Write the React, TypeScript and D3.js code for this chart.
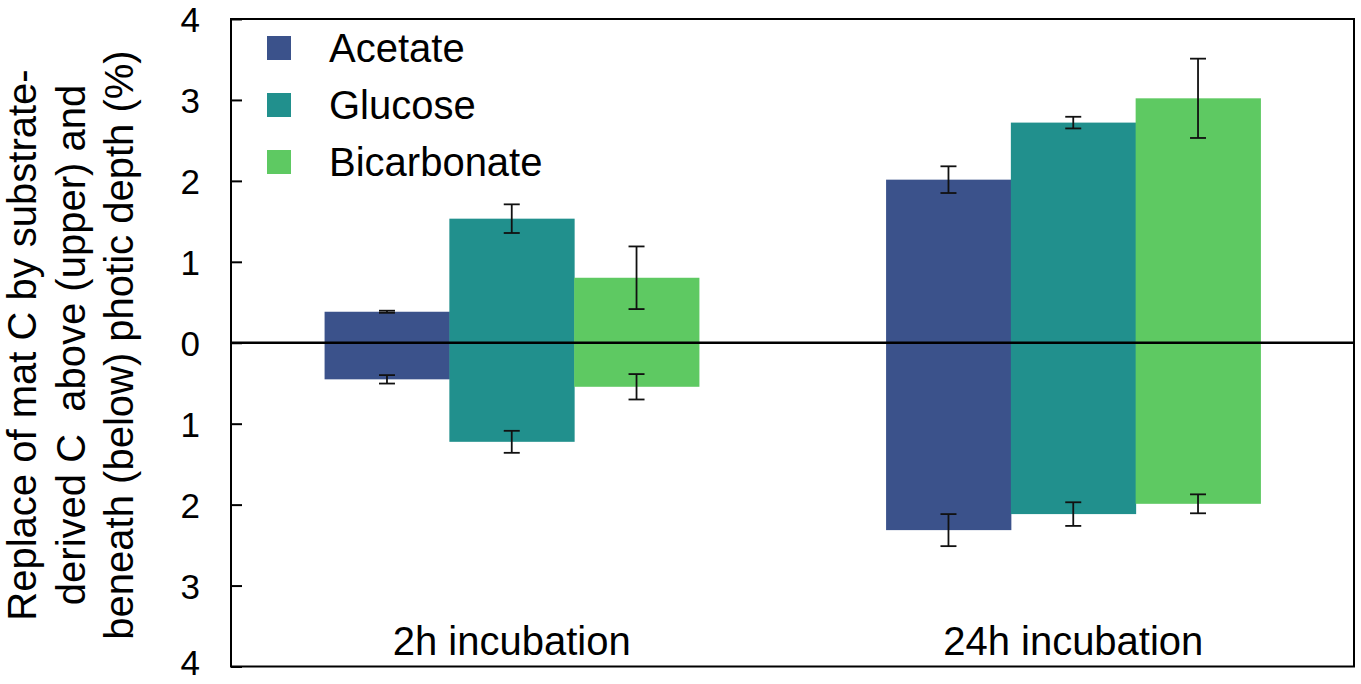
import React, { useEffect, useRef } from 'react';
import * as d3 from 'd3';

// categories and series
const categories = ['2h incubation', '24h incubation'];
const substrates = ['Acetate', 'Glucose', 'Bicarbonate'];
const substrateColors = ['#3b528b', '#21908d', '#5ec962'];

// replacement above photic depth (upper, drawn positive), per category
const acetateAbove = [0.383, 2.015];
const glucoseAbove = [1.533, 2.72];
const bicarbonateAbove = [0.803, 3.02];
const acetateAboveErr = [0.013, 0.165];
const glucoseAboveErr = [0.177, 0.072];
const bicarbonateAboveErr = [0.387, 0.49];

// replacement beneath photic depth (below, drawn negative), per category
const acetateBelow = [0.452, 2.315];
const glucoseBelow = [1.224, 2.117];
const bicarbonateBelow = [0.544, 1.99];
const acetateBelowErr = [0.052, 0.198];
const glucoseBelowErr = [0.136, 0.146];
const bicarbonateBelowErr = [0.157, 0.117];

const yTicks = [-4, -3, -2, -1, 0, 1, 2, 3, 4];
const yLabelLines = [
  'Replace of mat C by substrate-',
  'derived C  above (upper) and',
  'beneath (below) photic depth (%)',
];

interface BarDatum {
  category: string;
  substrate: string;
  color: string;
  value: number;
  err: number;
}

const FONT = 'Arial, "Liberation Sans", sans-serif';

export default function App() {
  const svgRef = useRef<SVGSVGElement>(null);

  useEffect(() => {
    if (!svgRef.current) return;
    const width = 1361;
    const height = 684;

    d3.select(svgRef.current).selectAll('*').remove();

    const margin = { top: 19, right: 7, bottom: 17.5, left: 231 };
    const chartWidth = width - margin.left - margin.right;
    const chartHeight = height - margin.top - margin.bottom;

    const svg = d3
      .select(svgRef.current)
      .attr('width', width)
      .attr('height', height)
      .append('g')
      .attr('transform', `translate(${margin.left}, ${margin.top})`);

    const x0 = d3.scaleBand().domain(categories).range([0, chartWidth]).padding(0);
    const x1 = d3
      .scaleBand()
      .domain(substrates)
      .range([0, x0.bandwidth()])
      .paddingInner(0)
      .paddingOuter(0.75);
    const y = d3.scaleLinear().domain([-4, 4]).range([chartHeight, 0]);

    const above = [acetateAbove, glucoseAbove, bicarbonateAbove];
    const aboveErr = [acetateAboveErr, glucoseAboveErr, bicarbonateAboveErr];
    const below = [acetateBelow, glucoseBelow, bicarbonateBelow];
    const belowErr = [acetateBelowErr, glucoseBelowErr, bicarbonateBelowErr];

    const bars: BarDatum[] = [];
    categories.forEach((c, ci) => {
      substrates.forEach((s, si) => {
        bars.push({ category: c, substrate: s, color: substrateColors[si], value: above[si][ci], err: aboveErr[si][ci] });
        bars.push({ category: c, substrate: s, color: substrateColors[si], value: -below[si][ci], err: belowErr[si][ci] });
      });
    });

    const bx = (d: BarDatum) => x0(d.category)! + x1(d.substrate)!;

    // Bars
    svg
      .selectAll('.bar')
      .data(bars)
      .enter()
      .append('rect')
      .attr('class', 'bar')
      .attr('x', bx)
      .attr('width', x1.bandwidth() + 0.5)
      .attr('y', d => y(Math.max(0, d.value)))
      .attr('height', d => Math.abs(y(d.value) - y(0)))
      .attr('fill', d => d.color);

    // Error bars
    const capHalf = 8;
    const eb = svg
      .selectAll('.err')
      .data(bars)
      .enter()
      .append('g')
      .attr('class', 'err')
      .attr('stroke', '#111')
      .attr('stroke-width', 1.8);
    eb.append('line')
      .attr('x1', d => bx(d) + x1.bandwidth() / 2)
      .attr('x2', d => bx(d) + x1.bandwidth() / 2)
      .attr('y1', d => y(d.value - d.err))
      .attr('y2', d => y(d.value + d.err));
    [1, -1].forEach(sign => {
      eb.append('line')
        .attr('x1', d => bx(d) + x1.bandwidth() / 2 - capHalf)
        .attr('x2', d => bx(d) + x1.bandwidth() / 2 + capHalf)
        .attr('y1', d => y(d.value + sign * d.err))
        .attr('y2', d => y(d.value + sign * d.err));
    });

    // Zero line
    svg
      .append('line')
      .attr('x1', 0)
      .attr('x2', chartWidth)
      .attr('y1', y(0))
      .attr('y2', y(0))
      .attr('stroke', '#000')
      .attr('stroke-width', 2.5);

    // Frame
    svg
      .append('rect')
      .attr('x', 0)
      .attr('y', 0)
      .attr('width', chartWidth)
      .attr('height', chartHeight)
      .attr('fill', 'none')
      .attr('stroke', '#000')
      .attr('stroke-width', 2);

    // Y-axis: inward ticks, absolute value labels
    const yAxis = svg
      .append('g')
      .call(
        d3
          .axisRight(y)
          .tickValues(yTicks)
          .tickSize(11)
          .tickFormat(d => String(Math.abs(d as number)))
      );
    yAxis.select('.domain').remove();
    yAxis.selectAll('.tick line').attr('stroke', '#000').attr('stroke-width', 2);
    yAxis
      .selectAll<SVGTextElement, number>('.tick text')
      .attr('x', -31)
      .attr('dy', d => (d === -4 ? '0.22em' : '0.36em'))
      .attr('text-anchor', 'end')
      .attr('fill', '#000')
      .attr('font-size', '35px')
      .attr('font-family', FONT);

    // Y-axis label
    const labelCenterY = 345 - margin.top;
    yLabelLines.forEach((line, i) => {
      svg
        .append('text')
        .attr('transform', `translate(${36 + i * 48.5 - margin.left}, ${labelCenterY}) rotate(-90)`)
        .attr('text-anchor', 'middle')
        .attr('fill', '#000')
        .attr('font-size', '40px')
        .attr('font-family', FONT)
        .style('white-space', 'pre')
        .text(line);
    });

    // Category labels
    svg
      .selectAll('.cat')
      .data(categories)
      .enter()
      .append('text')
      .attr('class', 'cat')
      .attr('x', d => x0(d)! + x0.bandwidth() / 2)
      .attr('y', 655 - margin.top)
      .attr('text-anchor', 'middle')
      .attr('fill', '#000')
      .attr('font-size', '40px')
      .attr('font-family', FONT)
      .text(d => d);

    // Legend
    const legend = svg.append('g').attr('transform', `translate(${267 - margin.left}, ${36 - margin.top})`);
    substrates.forEach((s, i) => {
      const row = legend.append('g').attr('transform', `translate(0, ${i * 57})`);
      row.append('rect').attr('width', 24).attr('height', 24).attr('fill', substrateColors[i]);
      row
        .append('text')
        .attr('x', 62)
        .attr('y', 25.5)
        .attr('fill', '#000')
        .attr('font-size', '40px')
        .attr('font-family', FONT)
        .text(s);
    });
  }, []);

  return (
    <div style={{ position: 'absolute', left: 0, top: 0, width: 1361, height: 684, background: '#fff' }}>
      <svg ref={svgRef} style={{ display: 'block' }}></svg>
    </div>
  );
}
